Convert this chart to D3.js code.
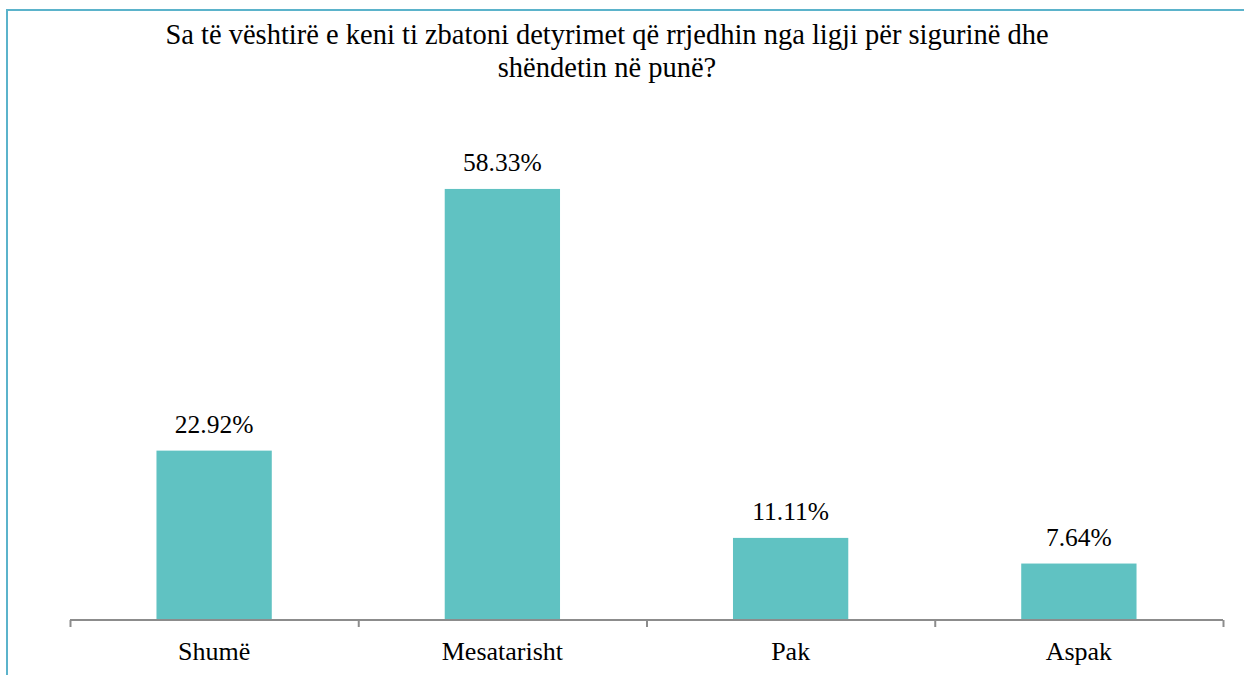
<!DOCTYPE html>
<html>
<head>
<meta charset="utf-8">
<script src="https://cdn.jsdelivr.net/npm/d3@7"></script>
<style>
	body { margin: 0; background: #fff; }
</style>
</head>
<body>
<div id="main"></div>
<script>
const titleLines = ["Sa të vështirë e keni ti zbatoni detyrimet që rrjedhin nga ligji për sigurinë dhe", "shëndetin në punë?"];
const categories = ["Shumë", "Mesatarisht", "Pak", "Aspak"];
const values = [22.92, 58.33, 11.11, 7.64];

const font = "Liberation Serif";

let width = 1244;
let height = 675;
let plot = {left: 70, right: 1223, bottom: 620};

let svg = d3.select("#main")
	.append("svg")
		.attr("width", width)
		.attr("height", height);

// outer frame
svg.append("rect")
	.attr("x", 7)
	.attr("y", 10)
	.attr("width", width)
	.attr("height", height)
	.style("fill", "none")
	.style("stroke", "#5bb3cb")
	.style("stroke-width", 2);

let x = d3.scaleBand()
	.domain(categories)
	.range([plot.left, plot.right])
	.paddingInner(0.6)
	.paddingOuter(0.3);

let y = d3.scaleLinear()
	.domain([0, 70])
	.range([plot.bottom, plot.bottom - 517.3]);

// title
svg.append("g")
	.selectAll("text")
	.data(titleLines)
	.enter()
	.append("text")
		.attr("x", 607)
		.attr("y", (d, i) => 44 + i * 33)
		.attr("text-anchor", "middle")
		.style("font-family", font)
		.style("font-size", "28.5px")
		.text(d => d);

// bars
svg.append("g")
	.selectAll("rect")
	.data(values)
	.enter()
	.append("rect")
		.attr("x", (d, i) => x(categories[i]))
		.attr("y", d => y(d))
		.attr("width", x.bandwidth())
		.attr("height", d => y(0) - y(d))
		.style("fill", "#60c2c2");

// value labels
svg.append("g")
	.selectAll("text")
	.data(values)
	.enter()
	.append("text")
		.attr("x", (d, i) => x(categories[i]) + x.bandwidth() / 2)
		.attr("y", d => y(d) - 18)
		.attr("text-anchor", "middle")
		.style("font-family", font)
		.style("font-size", "25.5px")
		.text(d => d.toFixed(2) + "%");

// x axis with ticks between categories
let edges = d3.scaleLinear()
	.domain([0, categories.length])
	.range([plot.left, plot.right]);

let axis = svg.append("g")
	.attr("transform", `translate(0,${plot.bottom})`)
	.call(d3.axisBottom(edges).ticks(categories.length).tickSize(7).tickFormat(""));
axis.select(".domain").remove();
axis.append("line")
	.attr("x1", plot.left)
	.attr("x2", plot.right)
	.style("stroke", "#8c8c8c")
	.style("stroke-width", 2);
axis.selectAll(".tick line")
	.style("stroke", "#8c8c8c")
	.style("stroke-width", 2);

// category labels
svg.append("g")
	.selectAll("text")
	.data(categories)
	.enter()
	.append("text")
		.attr("x", d => x(d) + x.bandwidth() / 2)
		.attr("y", 660)
		.attr("text-anchor", "middle")
		.style("font-family", font)
		.style("font-size", "26px")
		.text(d => d);
</script>
</body>
</html>
